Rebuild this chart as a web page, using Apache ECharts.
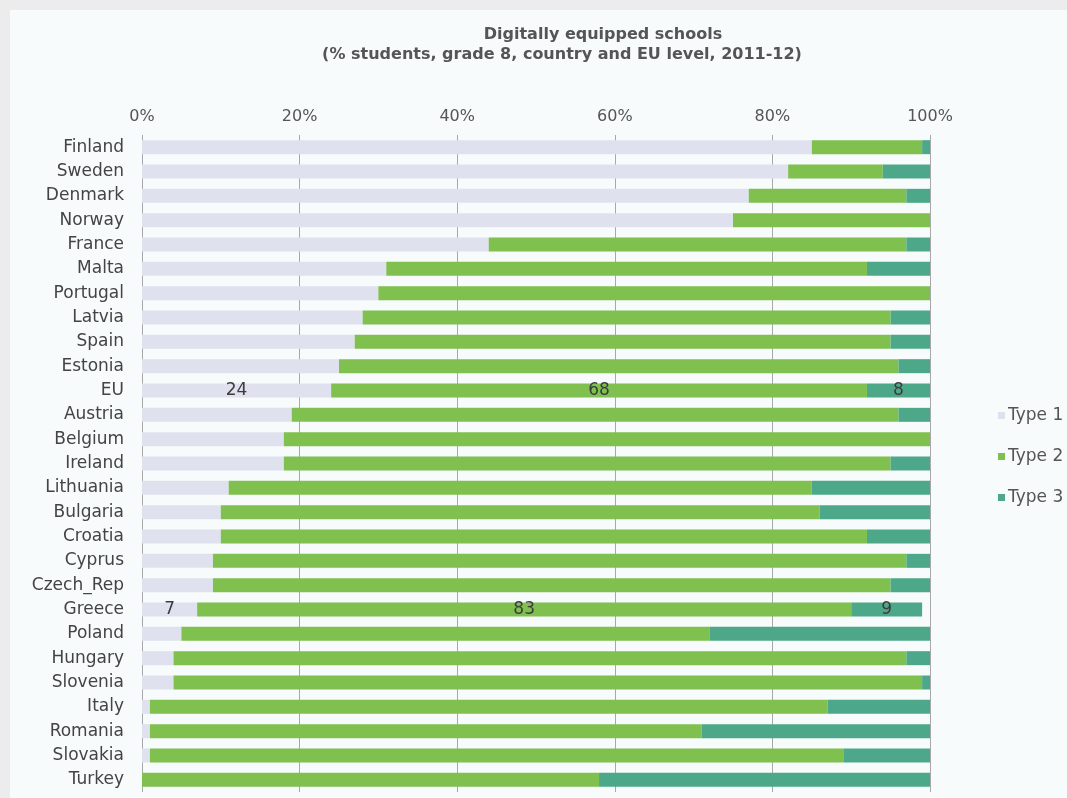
<!DOCTYPE html>
<html>
<head>
<meta charset="utf-8">
<script src="https://cdn.jsdelivr.net/npm/echarts@6/dist/echarts.min.js"></script>
<style>
  html, body { margin: 0; padding: 0; width: 1067px; height: 798px; background: #ececec; overflow: hidden; }
  #chart { position: absolute; left: 10px; top: 10px; width: 1057px; height: 788px; background: #f7fbfb; }
</style>
</head>
<body>
<div id="chart"></div>
<script>
// Countries, top to bottom
const countries = ['Finland', 'Sweden', 'Denmark', 'Norway', 'France', 'Malta', 'Portugal', 'Latvia',
  'Spain', 'Estonia', 'EU', 'Austria', 'Belgium', 'Ireland', 'Lithuania', 'Bulgaria', 'Croatia',
  'Cyprus', 'Czech_Rep', 'Greece', 'Poland', 'Hungary', 'Slovenia', 'Italy', 'Romania', 'Slovakia', 'Turkey'];

// Share of students (%) per school type
const type1 = [85, 82, 77, 75, 44, 31, 30, 28, 27, 25, 24, 19, 18, 18, 11, 10, 10, 9, 9, 7, 5, 4, 4, 1, 1, 1, 0];
const type2 = [14, 12, 20, 25, 53, 61, 70, 67, 68, 71, 68, 77, 82, 77, 74, 76, 82, 88, 86, 83, 67, 93, 95, 86, 70, 88, 58];
const type3 = [1, 6, 3, 0, 3, 8, 0, 5, 5, 4, 8, 4, 0, 5, 15, 14, 8, 3, 5, 9, 28, 3, 1, 13, 29, 11, 42];

// Rows whose values are printed on the bars
const labelledRows = ['EU', 'Greece'];

const xTicks = [0, 20, 40, 60, 80, 100];

const seriesDefs = [
  { name: 'Type 1', values: type1, color: '#dfe1ee' },
  { name: 'Type 2', values: type2, color: '#7fc04f' },
  { name: 'Type 3', values: type3, color: '#4da889' }
];

const chart = echarts.init(document.getElementById('chart'));

chart.setOption({
  animation: false,
  title: [
    {
      text: 'Digitally equipped schools',
      left: 588, top: 12, textAlign: 'center',
      textStyle: { fontFamily: 'DejaVu Sans', fontSize: 16, fontWeight: 'bold', color: '#555' }
    },
    {
      text: '(% students, grade 8, country and EU level, 2011-12)',
      left: 547, top: 32, textAlign: 'center',
      textStyle: { fontFamily: 'DejaVu Sans', fontSize: 16, fontWeight: 'bold', color: '#555' }
    }
  ],
  legend: {
    orient: 'vertical',
    left: 983, top: 392,
    itemWidth: 7, itemHeight: 7, itemGap: 24,
    icon: 'rect',
    textStyle: { fontFamily: 'DejaVu Sans', fontSize: 17, color: '#555', padding: [0, 0, 0, -2] },
    data: seriesDefs.map(s => s.name)
  },
  grid: { left: 132, top: 125, width: 788, height: 657 },
  xAxis: {
    type: 'value',
    position: 'top',
    min: 0, max: 100, interval: 20,
    axisLine: { show: false },
    axisTick: { show: false },
    axisLabel: {
      margin: 10,
      fontFamily: 'DejaVu Sans', fontSize: 16, color: '#555',
      formatter: v => xTicks.includes(v) ? v + '%' : ''
    },
    splitLine: { show: true, lineStyle: { color: '#a8a8a8', width: 1 } }
  },
  yAxis: {
    type: 'category',
    inverse: true,
    data: countries,
    axisLine: { show: false },
    axisTick: { show: false },
    axisLabel: { margin: 18, fontFamily: 'DejaVu Sans', fontSize: 17, color: '#444' }
  },
  series: seriesDefs.map(s => ({
    name: s.name,
    type: 'bar',
    stack: 'share',
    barWidth: 14,
    itemStyle: { color: s.color },
    data: s.values.map((v, i) => ({
      value: v,
      label: {
        show: labelledRows.includes(countries[i]),
        position: 'inside',
        fontFamily: 'DejaVu Sans', fontSize: 17, color: '#3c3c3c'
      }
    }))
  }))
});
</script>
</body>
</html>
